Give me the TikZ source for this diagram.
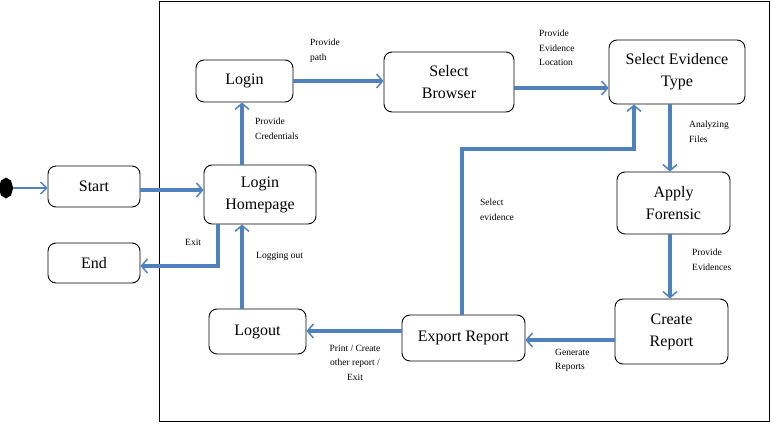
\documentclass[tikz,border=0pt]{standalone}
\usepackage{fontspec}
\setmainfont{Liberation Serif}
\usetikzlibrary{arrows.meta,calc,shapes.geometric}
\definecolor{flow}{HTML}{4F81BD}
\tikzset{
  state/.style={draw=black, line width=0.9pt, rounded corners=8pt, align=center,
    font=\fontsize{16}{22}\selectfont, inner sep=0pt},
  flowline/.style={draw=flow, line width=3.2pt,
    -{Straight Barb[length=6pt,width=14pt,line width=1.5pt]}},
  thinflow/.style={draw=flow, line width=1.8pt,
    -{Straight Barb[length=6pt,width=12pt,line width=1.3pt]}},
  lbl/.style={font=\fontsize{9.5}{14.5}\selectfont, align=left, inner sep=0pt},
}
\begin{document}
\begin{tikzpicture}[x=1pt,y=-1pt]
\useasboundingbox (0,0) rectangle (772,424);
\draw[line width=0.9pt] (159,1) rectangle (769,421);

\node[state, minimum width=92pt, minimum height=41pt] (start) at (94,186.5) {Start};
\node[state, minimum width=92pt, minimum height=40pt] (end) at (94,263) {End};
\node[state, minimum width=112pt, minimum height=59pt] (lhp) at (260,194.5) {Login\\Homepage};
\node[state, minimum width=97pt, minimum height=42pt] (login) at (244.5,81) {Login};
\node[state, minimum width=130pt, minimum height=60pt] (browser) at (449,82) {Select\\Browser};
\node[state, minimum width=136pt, minimum height=64pt] (selev) at (677,72) {Select Evidence\\Type};
\node[state, minimum width=113pt, minimum height=62pt] (apply) at (673.5,203) {Apply\\Forensic};
\node[state, minimum width=113pt, minimum height=65pt] (create) at (671.5,331.5) {Create\\Report};
\node[state, minimum width=123pt, minimum height=46pt] (export) at (463.5,338) {Export Report};
\node[state, minimum width=97pt, minimum height=45pt] (logout) at (257.5,331.5) {Logout};

\node[fill=black, regular polygon, regular polygon sides=8, shape border rotate=22.5,
  minimum size=21pt, inner sep=0pt, transform shape, xscale=0.68] (init) at (6,188) {};

% connectors
\draw[thinflow] (init.east) -- (start.west |- init.east);
\draw[flowline] ([yshift=-3.5pt]start.east) -- ([yshift=-3.5pt]start.east -| lhp.west);
\draw[flowline] ([xshift=-18pt]lhp.north) -- ([xshift=-18pt]lhp.north |- login.south);
\draw[flowline] (login.east) -- (login.east -| browser.west);
\draw[flowline] ([yshift=-6pt]browser.east) -- ([yshift=-6pt]browser.east -| selev.west);
\draw[flowline] ([xshift=-7pt]selev.south) -- ([xshift=-7pt]selev.south |- apply.north);
\draw[flowline] ([xshift=-3.5pt]apply.south) -- ([xshift=-3.5pt]apply.south |- create.north);
\draw[flowline] ([yshift=-2pt]export.east -| create.west) -- ([yshift=-2pt]export.east);
\coordinate (turn) at (634,149);
\draw[flowline] ([xshift=-1.5pt]export.north) |- (turn) -- (turn |- selev.south);
\draw[flowline] ([yshift=7pt]export.west) -- ([yshift=7pt]export.west -| logout.east);
\draw[flowline] ([xshift=-15.5pt]logout.north) -- ([xshift=-15.5pt]logout.north |- lhp.south);
\draw[flowline] ([xshift=-42pt]lhp.south) |- ([yshift=-3pt]end.east);

% labels
\node[lbl, anchor=north west] (l1) at (310,39) {Provide\\path};
\node[lbl, anchor=north west] (l2) at (539,30) {Provide\\Evidence\\Location};
\node[lbl, anchor=north west] (l3) at (255,118) {Provide\\Credentials};
\node[lbl, anchor=north west] (l4) at (689,121) {Analyzing\\Files};
\node[lbl, anchor=north west] (l5) at (480,199) {Select\\evidence};
\node[lbl, anchor=north west] (l6) at (692,249) {Provide\\Evidences};
\node[lbl, anchor=north west] (l7) at (555,349) {Generate\\Reports};
\node[lbl, align=center, anchor=north] (l8) at (355,345) {Print / Create\\other report /\\Exit};
\node[lbl, anchor=north west] (l9) at (185,239) {Exit};
\node[lbl, anchor=north west] (l10) at (256,252) {Logging out};
\end{tikzpicture}
\end{document}
